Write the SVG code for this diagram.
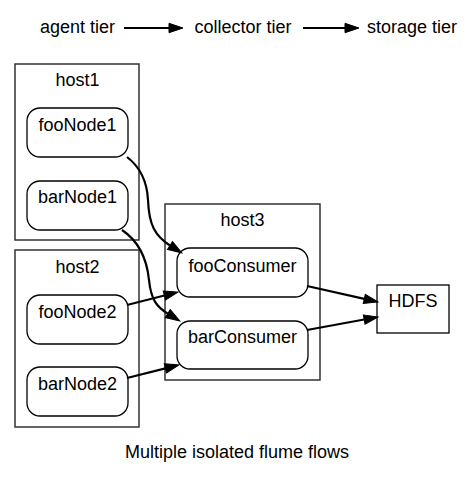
<svg xmlns="http://www.w3.org/2000/svg" width="475" height="477" viewBox="0 0 475 477">
<defs>
<style>
text{font-family:"Liberation Sans",Arial,sans-serif;font-size:18px;fill:#000;text-anchor:middle}
.cluster{fill:none;stroke:#333;stroke-width:1.5}
.node{fill:#fff;stroke:#000;stroke-width:1.3}
.edge{fill:none;stroke:#000;stroke-width:2.2;marker-end:url(#arr)}
</style>
<marker id="arr" markerUnits="userSpaceOnUse" markerWidth="15" markerHeight="11" refX="0" refY="4.7" orient="auto" overflow="visible">
<path d="M0,0 L14,4.7 L0,9.4 z" fill="#000" stroke="#000" stroke-width="1"/>
</marker>
</defs>
<rect width="475" height="477" fill="#fff"/>
<g id="legend">
<text x="77.5" y="33">agent tier</text>
<text x="243" y="33">collector tier</text>
<text x="412" y="33">storage tier</text>
</g>
<g id="host1">
<rect class="cluster" x="15" y="64" width="124" height="176"/>
<text x="77.5" y="86">host1</text>
</g>
<g id="host2">
<rect class="cluster" x="15" y="250" width="124" height="177"/>
<text x="77.5" y="273">host2</text>
</g>
<g id="host3">
<rect class="cluster" x="165" y="204" width="155" height="176"/>
<text x="242.5" y="226">host3</text>
</g>
<g id="fooNode1">
<rect class="node" x="27" y="108" width="101" height="49" rx="13"/>
<text x="77.5" y="131">fooNode1</text>
</g>
<g id="barNode1">
<rect class="node" x="27" y="181" width="101" height="49" rx="13"/>
<text x="77.5" y="203">barNode1</text>
</g>
<g id="fooNode2">
<rect class="node" x="27" y="295" width="101" height="49" rx="13"/>
<text x="77.5" y="318">fooNode2</text>
</g>
<g id="barNode2">
<rect class="node" x="27" y="367" width="101" height="49" rx="13"/>
<text x="77.5" y="390">barNode2</text>
</g>
<g id="fooConsumer">
<rect class="node" x="177" y="248" width="131" height="49" rx="13"/>
<text x="242.5" y="272">fooConsumer</text>
</g>
<g id="barConsumer">
<rect class="node" x="177" y="321" width="131" height="48" rx="13"/>
<text x="242.5" y="343">barConsumer</text>
</g>
<g id="HDFS">
<rect class="node" x="377" y="285" width="72" height="48"/>
<text x="413" y="307">HDFS</text>
</g>
<g id="connectors">
<path class="edge" d="M124,28 L169,28"/>
<path class="edge" d="M303,28 L345,28"/>
<path class="edge" d="M127,157 C140,167 147,180 148,200 C149,225 155,236 170,245.5"/>
<path class="edge" d="M122,230 C140,242 147,260 149,280 C151,300 157,307 167.8,313.6"/>
<path class="edge" d="M127,305 L164.4,295.5"/>
<path class="edge" d="M127,378 L165.4,368.4"/>
<path class="edge" d="M307,286 L364.3,298.9"/>
<path class="edge" d="M307,330 L364.2,319.5"/>
</g>
<text x="237" y="458">Multiple isolated flume flows</text>
</svg>
